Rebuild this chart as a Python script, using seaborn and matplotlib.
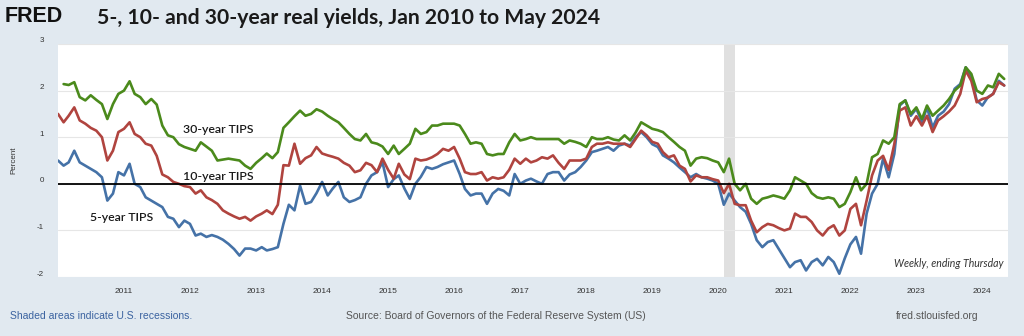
import numpy as np
import pandas as pd
import matplotlib
matplotlib.use("Agg")
import matplotlib.pyplot as plt
from matplotlib.transforms import ScaledTranslation
import seaborn as sns

# Monthly readings, Jan 2010 .. May 2024 (percent)
months = pd.date_range("2010-01-01", "2024-05-01", freq="MS")

tips_5y = [
    0.50, 0.39, 0.46, 0.71, 0.46, 0.39, 0.32, 0.25, 0.14, -0.36, -0.21, 0.25,
    0.18, 0.43, 0.00, -0.07, -0.29, -0.36, -0.43, -0.50, -0.71, -0.75, -0.93, -0.79,
    -0.86, -1.11, -1.07, -1.14, -1.10, -1.14, -1.20, -1.29, -1.40, -1.54, -1.39, -1.39,
    -1.43, -1.36, -1.43, -1.40, -1.36, -0.86, -0.45, -0.57, -0.04, -0.43, -0.39, -0.20,
    0.04, -0.25, -0.10, 0.04, -0.29, -0.39, -0.35, -0.29, 0.00, 0.18, 0.25, 0.46,
    -0.07, 0.10, 0.18, -0.10, -0.32, 0.00, 0.15, 0.36, 0.32, 0.36, 0.42, 0.46,
    0.50, 0.21, -0.11, -0.25, -0.21, -0.21, -0.43, -0.21, -0.11, -0.15, -0.25, 0.21,
    0.00, 0.07, 0.11, 0.05, 0.00, 0.21, 0.25, 0.25, 0.07, 0.20, 0.25, 0.36,
    0.50, 0.68, 0.71, 0.75, 0.79, 0.71, 0.82, 0.86, 0.82, 1.00, 1.11, 1.00,
    0.85, 0.79, 0.61, 0.54, 0.46, 0.35, 0.25, 0.14, 0.21, 0.14, 0.11, 0.07,
    0.00, -0.45, -0.21, -0.36, -0.50, -0.60, -0.86, -1.21, -1.36, -1.25, -1.21, -1.40,
    -1.60, -1.79, -1.68, -1.64, -1.86, -1.68, -1.61, -1.75, -1.57, -1.68, -1.93, -1.60,
    -1.30, -1.14, -1.50, -0.64, -0.21, 0.00, 0.54, 0.14, 0.64, 1.68, 1.79, 1.46,
    1.61, 1.32, 1.64, 1.21, 1.46, 1.55, 1.71, 2.04, 2.14, 2.50, 2.29, 1.79,
    1.68, 1.86, 1.93, 2.21, 2.11,
]

tips_10y = [
    1.50, 1.32, 1.46, 1.64, 1.36, 1.29, 1.20, 1.14, 1.00, 0.50, 0.71, 1.11,
    1.18, 1.32, 1.07, 1.00, 0.86, 0.82, 0.60, 0.20, 0.14, 0.04, 0.00, -0.05,
    -0.07, -0.21, -0.14, -0.29, -0.35, -0.43, -0.57, -0.64, -0.70, -0.75, -0.71, -0.79,
    -0.70, -0.64, -0.57, -0.65, -0.45, 0.40, 0.39, 0.86, 0.43, 0.55, 0.61, 0.79,
    0.65, 0.61, 0.58, 0.54, 0.45, 0.39, 0.25, 0.29, 0.45, 0.40, 0.25, 0.54,
    0.30, 0.11, 0.43, 0.20, 0.10, 0.54, 0.50, 0.52, 0.57, 0.64, 0.75, 0.71,
    0.79, 0.54, 0.25, 0.21, 0.21, 0.25, 0.07, 0.14, 0.11, 0.14, 0.30, 0.54,
    0.43, 0.54, 0.46, 0.50, 0.57, 0.54, 0.61, 0.45, 0.32, 0.50, 0.50, 0.50,
    0.54, 0.79, 0.86, 0.86, 0.89, 0.86, 0.86, 0.86, 0.79, 0.96, 1.14, 1.04,
    0.90, 0.86, 0.68, 0.57, 0.61, 0.39, 0.32, 0.05, 0.18, 0.14, 0.14, 0.10,
    0.07, -0.20, 0.00, -0.43, -0.46, -0.46, -0.79, -1.04, -0.93, -0.86, -0.89, -0.95,
    -1.00, -0.96, -0.64, -0.71, -0.71, -0.82, -1.00, -1.11, -0.96, -0.89, -1.11, -1.00,
    -0.54, -0.43, -0.89, -0.36, 0.18, 0.50, 0.60, 0.30, 0.85, 1.57, 1.64, 1.25,
    1.45, 1.25, 1.46, 1.11, 1.36, 1.45, 1.55, 1.68, 1.93, 2.43, 2.21, 1.75,
    1.82, 1.85, 1.93, 2.18, 2.11,
]

tips_30y = [
    np.nan, 2.14, 2.12, 2.18, 1.86, 1.79, 1.90, 1.80, 1.71, 1.39, 1.71, 1.93,
    2.00, 2.20, 1.93, 1.86, 1.71, 1.82, 1.70, 1.25, 1.04, 1.00, 0.85, 0.79,
    0.75, 0.71, 0.89, 0.80, 0.71, 0.50, 0.52, 0.54, 0.52, 0.50, 0.39, 0.32,
    0.45, 0.55, 0.65, 0.55, 0.68, 1.20, 1.32, 1.45, 1.57, 1.46, 1.50, 1.60,
    1.55, 1.46, 1.39, 1.32, 1.20, 1.07, 0.96, 0.93, 1.07, 0.89, 0.86, 0.80,
    0.64, 0.82, 0.64, 0.75, 0.86, 1.18, 1.07, 1.11, 1.25, 1.25, 1.29, 1.29,
    1.29, 1.25, 1.07, 0.86, 0.89, 0.86, 0.64, 0.61, 0.64, 0.64, 0.89, 1.07,
    0.93, 0.96, 1.00, 0.96, 0.96, 0.96, 0.96, 0.96, 0.86, 0.93, 0.90, 0.86,
    0.79, 1.00, 0.96, 0.96, 1.00, 0.95, 0.93, 1.04, 0.93, 1.10, 1.32, 1.25,
    1.18, 1.15, 1.11, 1.00, 0.90, 0.79, 0.71, 0.39, 0.54, 0.57, 0.55, 0.50,
    0.46, 0.25, 0.54, 0.00, -0.14, 0.00, -0.32, -0.43, -0.32, -0.29, -0.25, -0.28,
    -0.32, -0.14, 0.14, 0.07, 0.00, -0.20, -0.29, -0.32, -0.29, -0.32, -0.50, -0.43,
    -0.18, 0.14, -0.14, 0.00, 0.57, 0.64, 0.93, 0.86, 1.00, 1.71, 1.79, 1.50,
    1.64, 1.39, 1.68, 1.46, 1.57, 1.68, 1.82, 2.00, 2.11, 2.50, 2.36, 2.00,
    1.93, 2.11, 2.07, 2.36, 2.25,
]

series_names = ["5-year TIPS", "10-year TIPS", "30-year TIPS"]
series_colors = ["#4572a7", "#b0443f", "#4b8a1c"]
recession = ("2020-02-01", "2020-04-01")
year_ticks = list(range(2011, 2025))
y_ticks = [-2, -1, 0, 1, 2, 3]

wide = pd.DataFrame({"date": months,
                     series_names[0]: tips_5y,
                     series_names[1]: tips_10y,
                     series_names[2]: tips_30y})
long = wide.melt(id_vars="date", var_name="series", value_name="yield").dropna()

sns.set_style("white")
plt.rcParams["font.family"] = ["Liberation Sans", "DejaVu Sans"]

BG = "#e1e9f0"
fig = plt.figure(figsize=(10.24, 3.36), dpi=100, facecolor=BG)
ax = fig.add_axes([58 / 1024, 59 / 336, 950 / 1024, 233 / 336])
ax.set_facecolor("white")

ax.axvspan(pd.Timestamp(recession[0]), pd.Timestamp(recession[1]),
           color="#e0e0e0", lw=0, zorder=0)

sns.lineplot(data=long, x="date", y="yield", hue="series",
             hue_order=series_names, palette=dict(zip(series_names, series_colors)),
             linewidth=1.9, legend=False, estimator=None, sort=True, ax=ax, zorder=3)

ax.axhline(0, color="black", lw=1.3, zorder=4)

ax.set_xlim(pd.Timestamp("2010-01-01"), pd.Timestamp("2024-05-22"))
ax.set_ylim(-2, 3)
ax.set_yticks(y_ticks)
ax.set_yticklabels([str(t) for t in y_ticks])
ax.set_xticks([pd.Timestamp(f"{y}-01-01") for y in year_ticks])
ax.set_xticklabels([str(y) for y in year_ticks])
ax.grid(axis="y", color="#e6e6e6", lw=0.8, zorder=1)
ax.grid(axis="x", visible=False)
for s in ax.spines.values():
    s.set_visible(False)
ax.tick_params(axis="y", length=0, pad=10, labelsize=5.8, labelcolor="#333333")
ax.tick_params(axis="x", length=3, width=0.6, color="#c8cdd2", pad=5,
               labelsize=6, labelcolor="#333333")
for lab in ax.get_yticklabels():
    lab.set_transform(lab.get_transform() + ScaledTranslation(0, 4 / 100, fig.dpi_scale_trans))
ax.set_xlabel("")
ax.set_ylabel("Percent", fontsize=5.8, color="#333333", labelpad=14)

lab_font = dict(family=["Lato", "DejaVu Sans"], fontsize=8.8, fontweight="semibold",
                color="#1a1a1a", va="center", ha="left", zorder=5)
ax.text(pd.Timestamp("2011-11-22"), 1.16, "30-year TIPS", **lab_font)
ax.text(pd.Timestamp("2011-11-22"), 0.15, "10-year TIPS", **lab_font)
ax.text(pd.Timestamp("2010-06-25"), -0.73, "5-year TIPS", **lab_font)

ax.text(0.995, 0.06, "Weekly, ending Thursday", transform=ax.transAxes,
        ha="right", va="center", fontsize=7.6, style="italic",
        family=["Lato", "DejaVu Sans"], color="#333333")

fig.text(5 / 1024, 1 - 17 / 336, "FRED", ha="left", va="center",
         fontsize=15.5, fontweight="bold", color="#111111")
fig.text(97 / 1024, 1 - 18 / 336, "5-, 10- and 30-year real yields, Jan 2010 to May 2024",
         ha="left", va="center", fontsize=15.2, fontweight="bold",
         family=["Lato", "DejaVu Sans"], color="#1a1a1a")

fig.text(10 / 1024, 20 / 336, "Shaded areas indicate U.S. recessions.",
         ha="left", va="center", fontsize=7.5, color="#3a62a0")
fig.text(346 / 1024, 20 / 336,
         "Source: Board of Governors of the Federal Reserve System (US)",
         ha="left", va="center", fontsize=7.5, color="#555555")
fig.text(896 / 1024, 20 / 336, "fred.stlouisfed.org",
         ha="left", va="center", fontsize=7.5, color="#555555")

fig.savefig("out.png", dpi=100, facecolor=BG)
